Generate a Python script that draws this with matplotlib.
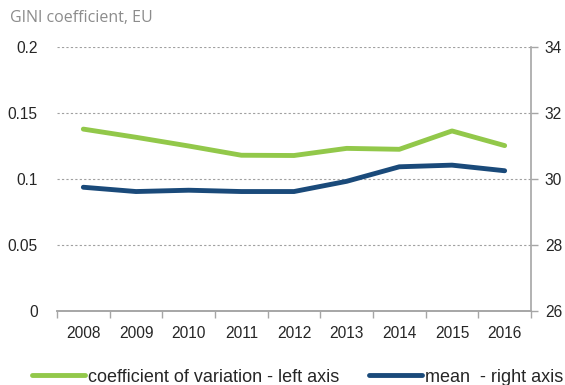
import matplotlib
matplotlib.use("Agg")
import matplotlib.pyplot as plt
from matplotlib.ticker import FixedLocator, NullFormatter

years = ["2008", "2009", "2010", "2011", "2012", "2013", "2014", "2015", "2016"]
coef_variation = [0.1378, 0.1316, 0.1250, 0.1180, 0.1178, 0.1232, 0.1225, 0.1364, 0.1253]
gini_mean = [29.75, 29.62, 29.66, 29.62, 29.62, 29.93, 30.37, 30.42, 30.25]

left_ticks = [0, 0.05, 0.1, 0.15, 0.2]
left_labels = ["0", "0.05", "0.1", "0.15", "0.2"]
right_ticks = [26, 28, 30, 32, 34]

GREEN = "#92C84A"
BLUE = "#1A4A7A"
AXIS_GREY = "#A6A6A6"
TEXT = "#262626"

plt.rcParams["font.family"] = ["Liberation Sans", "DejaVu Sans"]

fig = plt.figure(figsize=(5.65, 3.85), dpi=100)
ax = fig.add_axes([57 / 565, 1 - 311 / 385, (531 - 57) / 565, (311 - 47) / 385])
ax2 = ax.twinx()

x = list(range(len(years)))
l1, = ax.plot(x, coef_variation, color=GREEN, lw=3.5, solid_capstyle="round",
              solid_joinstyle="round", zorder=3, label="coefficient of variation - left axis")
l2, = ax2.plot(x, gini_mean, color=BLUE, lw=3.5, solid_capstyle="round",
               solid_joinstyle="round", zorder=3, label="mean  - right axis")

ax.set_xlim(-0.5, len(years) - 0.5)
ax.set_ylim(0, 0.2)
ax2.set_ylim(26, 34)

ax.set_yticks(left_ticks)
ax.set_yticklabels(left_labels)
ax2.set_yticks(right_ticks)

# category ticks sit between years; labels centred on each year
ax.set_xticks(x)
ax.set_xticklabels(years)
ax.xaxis.set_minor_locator(FixedLocator([i - 0.5 for i in range(len(years) + 1)]))
ax.xaxis.set_minor_formatter(NullFormatter())
ax.tick_params(axis="x", which="major", length=0, pad=11, labelsize=11.2, labelcolor=TEXT)
ax.tick_params(axis="x", which="minor", length=5, width=1, color=AXIS_GREY, direction="out")
ax.tick_params(axis="y", length=0, pad=14, labelsize=11.2, labelcolor=TEXT)
ax2.tick_params(axis="y", length=5, width=1, color=AXIS_GREY, direction="out", pad=5,
                labelsize=11.2, labelcolor=TEXT)

ax.grid(axis="y", color="#A0A0A0", lw=0.8, ls=(0, (2, 2)))
ax.set_axisbelow(True)

for a in (ax, ax2):
    for side in ("top", "left"):
        a.spines[side].set_visible(False)
    a.spines["bottom"].set_color(AXIS_GREY)
    a.spines["right"].set_color(AXIS_GREY)
    a.spines["bottom"].set_linewidth(1.2)
    a.spines["right"].set_linewidth(1.2)
ax.spines["right"].set_visible(False)

fig.text(10 / 565, 1 - 18 / 385, "GINI coefficient, EU", color="#8C8C8C",
         fontsize=11.5, family=["Open Sans", "DejaVu Sans"], va="center", ha="left")

fig.legend(handles=[l1, l2], loc="center left", bbox_to_anchor=(15.7 / 565, 1 - 377 / 385),
           ncol=2, frameon=False, handlelength=2.93, handletextpad=0.17,
           columnspacing=1.66, fontsize=13, labelcolor=TEXT)

fig.savefig("out.png", dpi=100)
